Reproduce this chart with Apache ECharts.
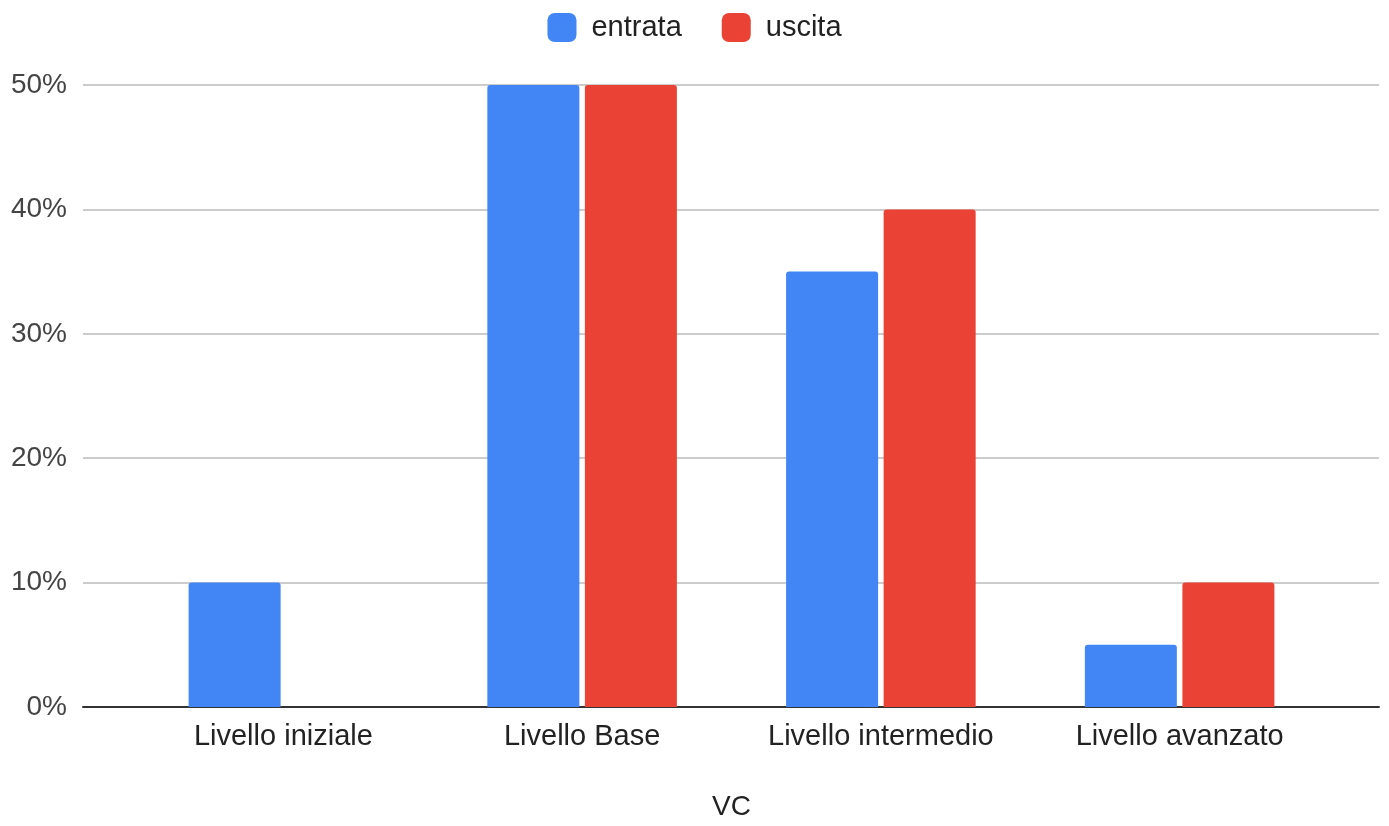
<!DOCTYPE html>
<html>
<head>
<meta charset="utf-8">
<script src="https://cdn.jsdelivr.net/npm/echarts@6/dist/echarts.min.js"></script>
<style>html,body{margin:0;padding:0;background:#fff}#c{width:1389px;height:826px}</style>
</head>
<body>
<div id="c"></div>
<script>
var categories = ['Livello iniziale', 'Livello Base', 'Livello intermedio', 'Livello avanzato'];
var entrata = [10, 50, 35, 5];
var uscita = [0, 50, 40, 10];
var seriesNames = ['entrata', 'uscita'];
var axisTitle = 'VC';

var FONT = '"Liberation Sans", Arial, sans-serif';
var chart = echarts.init(document.getElementById('c'));
chart.setOption({
  animation: false,
  textStyle: { fontFamily: FONT },
  legend: {
    top: 8, left: 'center',
    itemWidth: 29, itemHeight: 29, itemGap: 40,
    icon: 'roundRect',
    textStyle: { fontSize: 29, color: '#222', fontFamily: FONT, padding: [0, 0, 0, 10] },
    data: seriesNames
  },
  grid: [
    { left: 83, right: 10, top: 85, height: 622, containLabel: false, outerBoundsMode: 'none' },
    { left: 134, right: 60, top: 85, height: 622, containLabel: false, outerBoundsMode: 'none' }
  ],
  xAxis: [
    { gridIndex: 0, type: 'value', min: 0, max: 1,
      axisLine: { show: true, lineStyle: { color: '#333', width: 2 } },
      axisTick: { show: false }, axisLabel: { show: false }, splitLine: { show: false } },
    { gridIndex: 1, type: 'category', data: categories,
      axisLine: { show: false }, axisTick: { show: false },
      axisLabel: { fontSize: 29, color: '#222', margin: 15, fontFamily: FONT },
      name: axisTitle, nameLocation: 'middle', nameGap: 86,
      nameTextStyle: { fontSize: 28, color: '#222', fontFamily: FONT } }
  ],
  yAxis: [
    { gridIndex: 0, type: 'value', min: 0, max: 50, interval: 10,
      axisLine: { show: false }, axisTick: { show: false },
      axisLabel: { formatter: '{value}%', fontSize: 28, color: '#444', margin: 16, fontFamily: FONT, padding: [3, 0, 0, 0] },
      splitLine: { lineStyle: { color: '#ccc', width: 2 } } },
    { gridIndex: 1, type: 'value', min: 0, max: 50, interval: 10, show: false,
      splitLine: { show: false } }
  ],
  series: [
    { name: seriesNames[0], type: 'bar', xAxisIndex: 1, yAxisIndex: 1, data: entrata,
      barWidth: '30.8%', barGap: '6%', itemStyle: { color: '#4285F4', borderRadius: [3, 3, 0, 0] } },
    { name: seriesNames[1], type: 'bar', xAxisIndex: 1, yAxisIndex: 1, data: uscita,
      barWidth: '30.8%', barGap: '6%', itemStyle: { color: '#EA4335', borderRadius: [3, 3, 0, 0] } }
  ]
});
</script>
</body>
</html>
